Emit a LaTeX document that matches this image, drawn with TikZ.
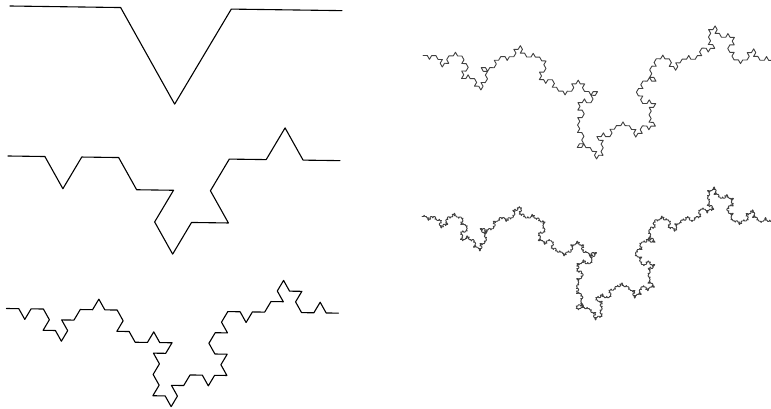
\documentclass[tikz,border=0pt]{standalone}
\newdimen\cx \newdimen\cy \newdimen\seglen
\newcount\khc \newcount\kha \newcount\khb \newcount\tabi
% orientation tables: R = bump to the right of travel (-1), L = to the left (+1)
\def\buildtab#1#2{\def\tabd{#1}\tabi=0 \buildtabA#2\relax}
\def\buildtabA#1{\ifx#1\relax\else
  \expandafter\edef\csname or@\tabd @\the\tabi\endcsname{\if#1R-1\else1\fi}%
  \advance\tabi1 \expandafter\buildtabA\fi}
\buildtab{1}{R}
\buildtab{2}{RLRL}
\buildtab{3}{RRLLRLRRLRRRRRLL}
\def\kmod{\khb=\kha \divide\khb 1009 \multiply\khb 1009 \advance\kha-\khb}
\def\khash#1#2{%
  \kha=\numexpr #2*73+#1*151+11\relax \kmod
  \kha=\numexpr\kha*\kha+17\relax \kmod
  \kha=\numexpr\kha*\kha+5\relax \kmod
  \ifnum\kha<505 \def\ks{1}\else\def\ks{-1}\fi}
\expandafter\def\csname kmove@0\endcsname{\global\advance\cx\seglen}
\expandafter\def\csname kmove@1\endcsname{\global\advance\cx0.5\seglen\global\advance\cy0.8660254\seglen}
\expandafter\def\csname kmove@2\endcsname{\global\advance\cx-0.5\seglen\global\advance\cy0.8660254\seglen}
\expandafter\def\csname kmove@3\endcsname{\global\advance\cx-\seglen}
\expandafter\def\csname kmove@4\endcsname{\global\advance\cx-0.5\seglen\global\advance\cy-0.8660254\seglen}
\expandafter\def\csname kmove@5\endcsname{\global\advance\cx0.5\seglen\global\advance\cy-0.8660254\seglen}
\def\kstep#1{\khc=\numexpr#1\relax \ifnum\khc<0 \advance\khc 6 \fi
  \csname kmove@\the\khc\endcsname \pgfpathlineto{\pgfqpoint{\cx}{\cy}}}
\def\kochseg#1#2#3{%
  \ifnum#1=\klev\relax
    \def\knext{\kstep{#2}}%
  \else
    \ifnum#1<3 \edef\ks{\csname or@\the\numexpr#1+1\relax @#3\endcsname}\else\khash{\the\numexpr#1+1\relax}{#3}\fi
    \edef\knext{%
      \noexpand\kochseg{\the\numexpr#1+1\relax}{#2}{\the\numexpr4*#3\relax}%
      \noexpand\kochseg{\the\numexpr#1+1\relax}{\the\numexpr#2+(\ks)\relax}{\the\numexpr4*#3+1\relax}%
      \noexpand\kochseg{\the\numexpr#1+1\relax}{\the\numexpr#2-(\ks)\relax}{\the\numexpr4*#3+2\relax}%
      \noexpand\kochseg{\the\numexpr#1+1\relax}{#2}{\the\numexpr4*#3+3\relax}}%
  \fi
  \knext}
% level, x, y (from top), width, angle, line width, colour
\def\kdraw#1#2#3#4#5#6#7{%
  \begin{pgfscope}
  \pgftransformshift{\pgfqpoint{#2pt}{\dimexpr408pt-#3pt\relax}}%
  \pgftransformrotate{#5}%
  \pgfsetlinewidth{#6}\pgfsetroundjoin\pgfsetroundcap
  \pgfsetstrokecolor{#7}%
  \def\klev{#1}%
  \pgfmathsetlength\seglen{#4/(3^#1)}%
  \global\cx=0pt \global\cy=0pt
  \pgfpathmoveto{\pgfqpoint{0pt}{0pt}}%
  \kochseg{0}{0}{0}%
  \pgfusepath{stroke}%
  \end{pgfscope}}
\begin{document}
\begin{tikzpicture}[x=1pt,y=1pt]
\useasboundingbox[fill=white] (0,0) rectangle (771,408);
\kdraw{1}{10}{6}{332}{-0.8}{1.1pt}{black}
\kdraw{2}{8}{156}{332}{-0.8}{1.1pt}{black}
\kdraw{3}{6.5}{308.5}{332}{-0.8}{1.1pt}{black}
\kdraw{4}{423}{55.5}{350}{-0.8}{0.9pt}{black!75}
\kdraw{5}{422}{216.5}{350}{-0.8}{0.9pt}{black!75}
\end{tikzpicture}
\end{document}
